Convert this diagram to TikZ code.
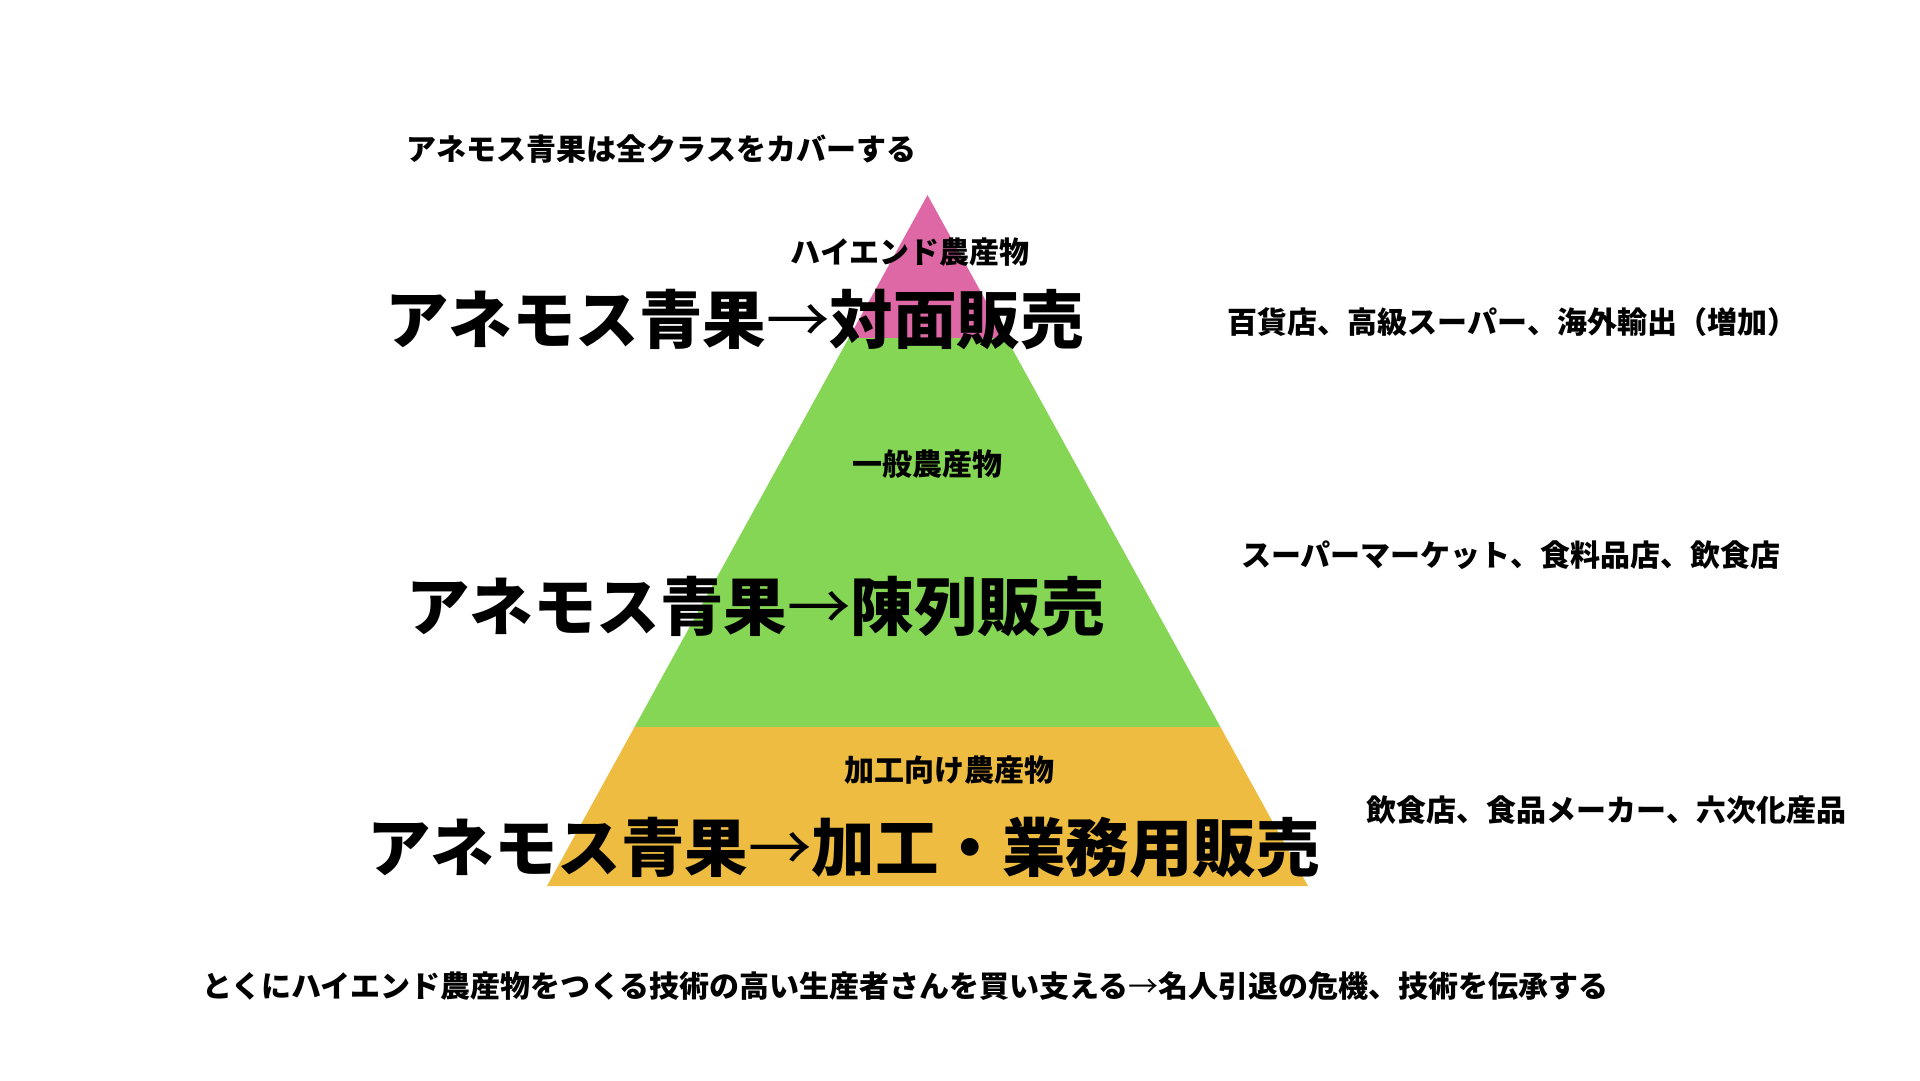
\documentclass[tikz,border=0pt]{standalone}
\usepackage{fontspec}
\setmainfont{Noto Sans CJK JP}
\usepackage{tikz}
\usetikzlibrary{positioning}
\usetikzlibrary{calc}

\definecolor{TierPink}{RGB}{221,104,165}
\definecolor{TierGreen}{RGB}{132,214,84}
\definecolor{TierOrange}{RGB}{238,188,64}

\newcommand{\ThinArrow}{{\mdseries →}}

\tikzset{
	note/.style={anchor=west, inner sep=0pt, font=\bfseries\fontsize{30}{30}\selectfont},
	headline/.style={anchor=west, inner sep=0pt, font=\bfseries\fontsize{63.5}{64}\selectfont},
}

\begin{document}
\begin{tikzpicture}[x=1pt, y=-1pt]
	
	% ------------------------------------------------
	% Ensure the dimensions of graphic are appropriate
	\useasboundingbox (0,0) rectangle (1920,1080);
	\fill[white] (0,0) rectangle (1920,1080);
	
	% ------------------------------------------------
	% Relevant coordinates
	\coordinate (Apex) at (927.5,195);
	
	\path (Apex) +(-380.5,691) coordinate (BaseLeft);
	\path (Apex) +( 380.5,691) coordinate (BaseRight);
	
	% ----------------
	% Pyramid tiers
	\begin{scope}
		\clip (Apex) -- (BaseLeft) -- (BaseRight) -- cycle;
		\fill[TierPink]   (500,190) rectangle (1360,338);
		\fill[TierGreen]  (500,338) rectangle (1360,727);
		\fill[TierOrange] (500,727) rectangle (1360,890);
	\end{scope}
	
	%%%%%%%%%%%%%%%%%%%%%%%%%%%%%%%%%%%%%%%%%
	% Labels
	\node[note] (CoverNote) at (406.5,149) {アネモス青果は全クラスをカバーする};
	
	\node[note] (HighEndTier) at (790.5,252) {ハイエンド農産物};
	\node[headline] (HighEndSale) at (385,320) {アネモス青果\ThinArrow 対面販売};
	\node[note] (HighEndShops) at (1227.5,322) {百貨店、高級スーパー、海外輸出（増加）};
	
	\node[note] (GeneralTier) at (852.5,464) {一般農産物};
	\node[headline] (GeneralSale) at (406,607) {アネモス青果\ThinArrow 陳列販売};
	\node[note] (GeneralShops) at (1241,555) {スーパーマーケット、食料品店、飲食店};
	
	\node[note] (ProcessTier) at (844.5,770) {加工向け農産物};
	\node[headline] (ProcessSale) at (367,848) {アネモス青果\ThinArrow 加工・業務用販売};
	\node[note] (ProcessShops) at (1366.5,810) {飲食店、食品メーカー、六次化産品};
	
	\node[note] (CraftNote) at (202,986) {とくにハイエンド農産物をつくる技術の高い生産者さんを買い支える\ThinArrow 名人引退の危機、技術を伝承する};
	
\end{tikzpicture}
\end{document}
